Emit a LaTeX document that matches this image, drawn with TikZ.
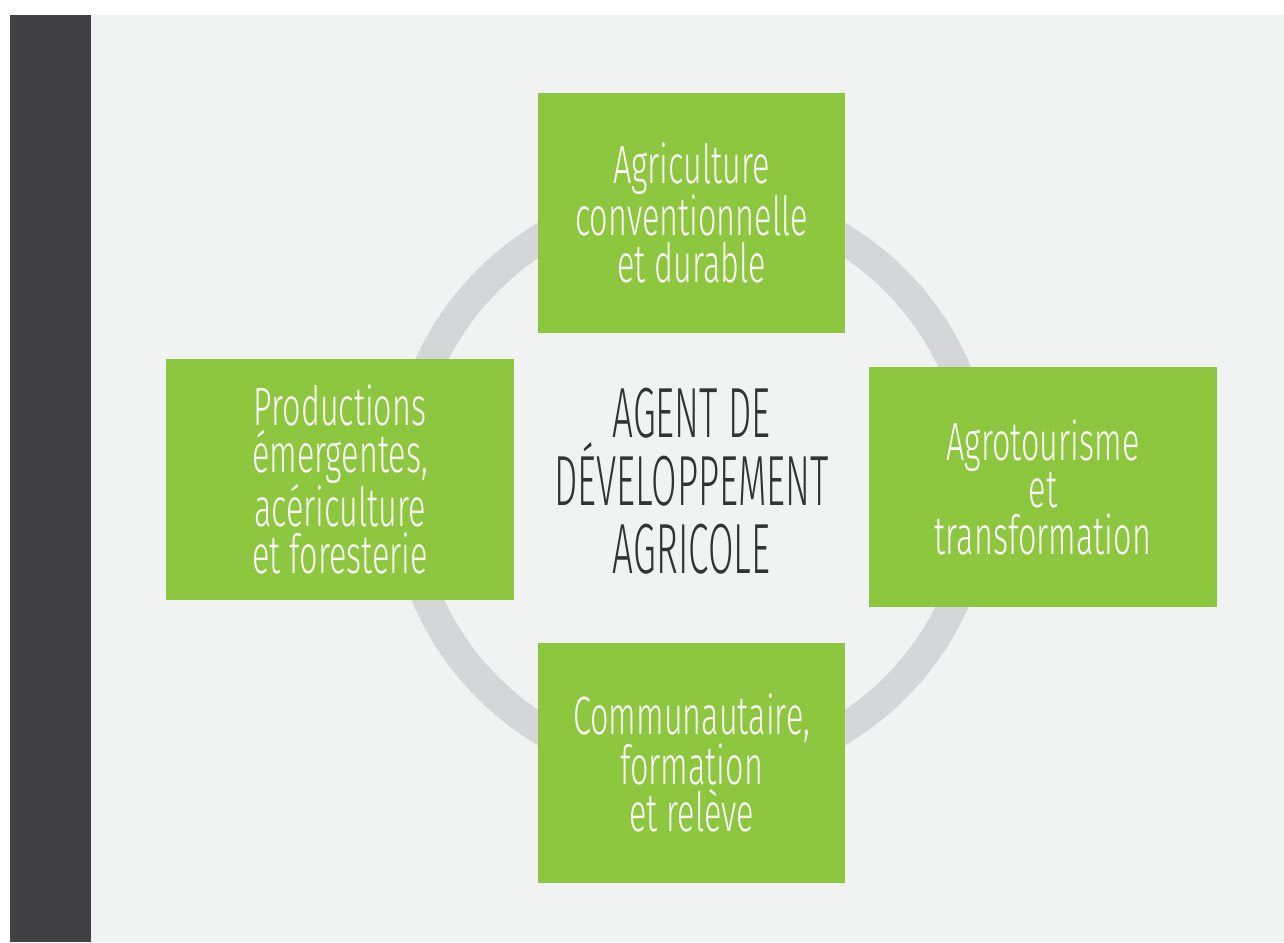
\documentclass[tikz,border=0pt]{standalone}
\usepackage{fontspec}
\newfontfamily\boxfont[FakeStretch=0.6]{Fira Sans Light}
\newfontfamily\hubfont[FakeStretch=0.52]{Fira Sans Light}
\definecolor{pagebg}{HTML}{F1F2F2}
\definecolor{sidebar}{HTML}{414042}
\definecolor{leaf}{HTML}{8DC63F}
\definecolor{ringgray}{HTML}{D5D6D8}
\definecolor{hubtext}{HTML}{333333}
\tikzset{
  ringline/.style={draw=ringgray, line width=30pt},
  greenbox/.style={fill=leaf, draw=none, inner sep=0pt, text=white,
    align=center, font=\boxfont\fontsize{54pt}{47pt}\selectfont},
  hublabel/.style={text=hubtext, align=center, inner sep=0pt,
    font=\hubfont\fontsize{71pt}{68pt}\selectfont}
}
\begin{document}
\begin{tikzpicture}[x=1pt, y=-1pt]
  \useasboundingbox (0,0) rectangle (1284,942);
  % page background and side bar
  \fill[pagebg] (91,15) rectangle (1284,942);
  \fill[sidebar] (10,15) rectangle (91,942);
  % ring behind the four theme boxes
  \draw[ringline] (691.5,484) circle[radius=288pt];
  % central label
  \node[hublabel] (hub) at (691.5,481) {AGENT DE\\DÉVELOPPEMENT\\AGRICOLE};
  % theme boxes
  \node[greenbox, minimum width=307pt, minimum height=240pt] (top) at (691.5,213)
    {Agriculture\\conventionnelle\\et durable};
  \node[greenbox, minimum width=348pt, minimum height=241pt] (left) at (340,479.5)
    {Productions\\émergentes,\\acériculture\\et foresterie};
  \node[greenbox, minimum width=348pt, minimum height=240pt] (right) at (1043,487)
    {Agrotourisme\\et\\transformation};
  \node[greenbox, minimum width=307pt, minimum height=240pt] (bottom) at (691.5,763)
    {Communautaire,\\formation\\et relève};
\end{tikzpicture}
\end{document}
